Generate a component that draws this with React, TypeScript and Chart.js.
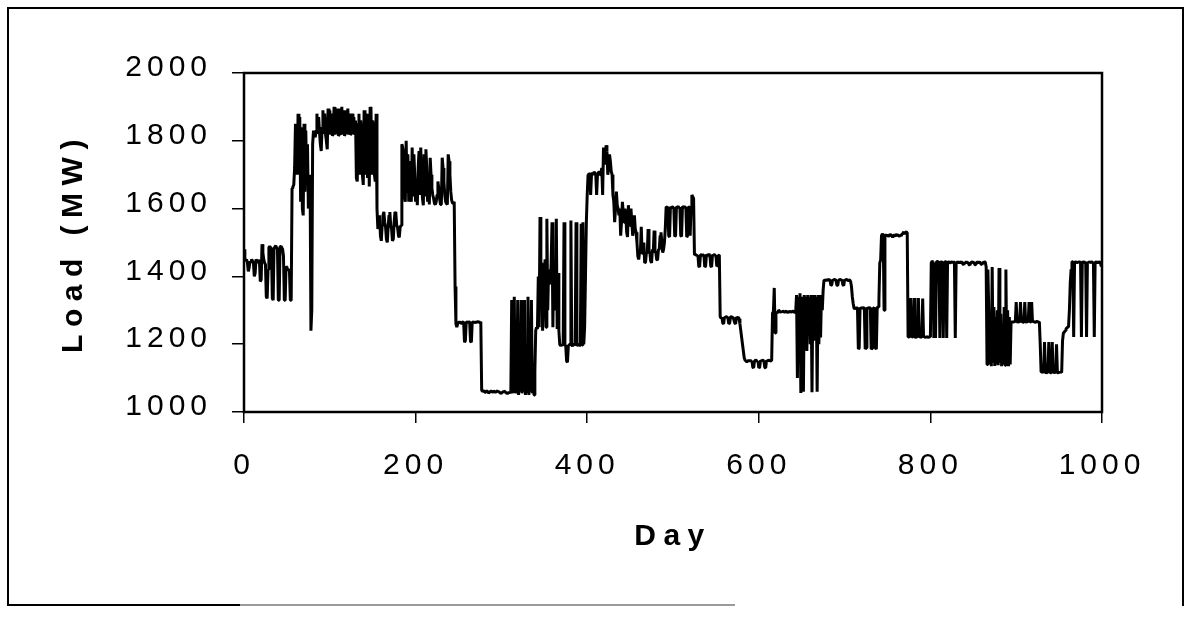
import React, { useEffect, useRef } from "react";
import { Chart, registerables } from "chart.js";

Chart.register(...registerables);

// Axis ticks and titles
const xTicks = [0, 200, 400, 600, 800, 1000];
const yTicks = [1000, 1200, 1400, 1600, 1800, 2000];
const xTitle = "Day";
const yTitle = "Load (MW)";

// Daily load (MW), one row per week. Days 0-202
const loadA = [
  1480, 1455, 1445, 1450, 1440, 1415, 1425,
  1445, 1440, 1450, 1445, 1440, 1400, 1410,
  1450, 1445, 1440, 1448, 1445, 1385, 1390,
  1495, 1470, 1450, 1440, 1435, 1340, 1335,
  1420, 1485, 1488, 1485, 1480, 1335, 1330,
  1485, 1488, 1490, 1485, 1480, 1330, 1330,
  1488, 1490, 1485, 1480, 1460, 1330, 1330,
  1430, 1425, 1420, 1420, 1415, 1330, 1330,
  1660, 1665, 1670, 1720, 1850, 1820, 1700,
  1880, 1700, 1870, 1620, 1840, 1600, 1580,
  1850, 1650, 1830, 1700, 1790, 1600, 1620,
  1700, 1240, 1300, 1790, 1830, 1820, 1810,
  1830, 1880, 1820, 1870, 1825, 1790, 1770,
  1840, 1890, 1820, 1880, 1820, 1800, 1775,
  1895, 1820, 1890, 1818, 1880, 1815, 1820,
  1900, 1818, 1890, 1820, 1895, 1815, 1818,
  1895, 1817, 1900, 1820, 1890, 1815, 1820,
  1890, 1820, 1895, 1818, 1880, 1818, 1820,
  1880, 1820, 1870, 1817, 1860, 1690, 1680,
  1850, 1880, 1700, 1860, 1820, 1700, 1670,
  1890, 1700, 1880, 1840, 1690, 1880, 1665,
  1900, 1890, 1700, 1860, 1840, 1700, 1680,
  1880, 1600, 1540, 1560, 1580, 1520, 1505,
  1550, 1580, 1590, 1560, 1545, 1510, 1500,
  1545, 1580, 1590, 1550, 1540, 1505, 1510,
  1560, 1590, 1585, 1550, 1545, 1520, 1515,
  1545, 1550, 1790, 1780, 1760, 1640, 1620,
  1800, 1650, 1760, 1620, 1740, 1640, 1620,
  1780, 1640, 1760, 1700, 1620, 1680, 1610,
];

// Days 203-405
const loadB = [
  1720, 1770, 1640, 1780, 1700, 1630, 1610,
  1760, 1640, 1775, 1720, 1620, 1680, 1612,
  1750, 1700, 1660, 1640, 1630, 1615, 1612,
  1620, 1640, 1680, 1660, 1630, 1612, 1612,
  1750, 1720, 1680, 1640, 1620, 1615, 1612,
  1760, 1740, 1700, 1650, 1625, 1616, 1616,
  1620, 1370, 1260, 1250, 1260, 1265, 1265,
  1265, 1262, 1266, 1265, 1264, 1206, 1210,
  1266, 1265, 1264, 1266, 1265, 1208, 1206,
  1266, 1265, 1266, 1264, 1265, 1265, 1266,
  1266, 1265, 1264, 1266, 1065, 1060, 1062,
  1062, 1058, 1060, 1062, 1060, 1056, 1058,
  1060, 1062, 1060, 1058, 1062, 1060, 1058,
  1060, 1062, 1060, 1060, 1058, 1055, 1056,
  1058, 1060, 1062, 1060, 1058, 1056, 1055,
  1056, 1058, 1055, 1060, 1330, 1100, 1055,
  1340, 1060, 1150, 1055, 1330, 1050, 1140,
  1060, 1330, 1055, 1150, 1060, 1330, 1050,
  1140, 1060, 1340, 1050, 1150, 1060, 1330,
  1055, 1140, 1050, 1120, 1240, 1250, 1245,
  1400, 1250, 1575, 1300, 1440, 1240, 1350,
  1420, 1450, 1250, 1570, 1300, 1420, 1380,
  1380, 1440, 1560, 1250, 1430, 1350, 1300,
  1570, 1245, 1410, 1240, 1200, 1195, 1198,
  1197, 1200, 1560, 1198, 1195, 1150, 1147,
  1195, 1198, 1200, 1565, 1197, 1195, 1198,
  1200, 1197, 1560, 1195, 1198, 1200, 1196,
  1197, 1555, 1198, 1560, 1200, 1250, 1400,
  1560, 1640, 1700, 1705, 1700, 1640, 1700,
];

// Days 406-608
const loadC = [
  1705, 1700, 1708, 1705, 1700, 1640, 1700,
  1705, 1710, 1700, 1706, 1720, 1640, 1780,
  1760, 1730, 1787, 1770, 1700, 1720, 1760,
  1740, 1710, 1700, 1640, 1620, 1560, 1600,
  1650, 1610, 1600, 1580, 1600, 1520, 1560,
  1620, 1590, 1560, 1600, 1580, 1530, 1516,
  1610, 1570, 1550, 1600, 1560, 1520, 1540,
  1580, 1540, 1530, 1500, 1460, 1450, 1470,
  1470, 1546, 1468, 1470, 1500, 1440, 1442,
  1470, 1468, 1540, 1470, 1472, 1445, 1440,
  1480, 1470, 1535, 1475, 1470, 1450, 1448,
  1478, 1480, 1520, 1530, 1500, 1470, 1480,
  1500, 1540, 1605, 1605, 1603, 1520, 1516,
  1605, 1602, 1605, 1604, 1600, 1518, 1520,
  1605, 1604, 1606, 1603, 1605, 1520, 1518,
  1606, 1605, 1604, 1605, 1603, 1516, 1520,
  1605, 1604, 1520, 1605, 1640, 1635, 1630,
  1463, 1465, 1463, 1462, 1464, 1430, 1428,
  1463, 1464, 1462, 1463, 1465, 1428, 1430,
  1464, 1462, 1463, 1465, 1463, 1430, 1428,
  1463, 1462, 1464, 1463, 1462, 1430, 1432,
  1462, 1463, 1280, 1278, 1280, 1262, 1260,
  1280, 1279, 1281, 1280, 1278, 1260, 1262,
  1280, 1281, 1279, 1280, 1280, 1262, 1260,
  1280, 1278, 1280, 1275, 1260, 1240, 1220,
  1200, 1180, 1160, 1153, 1150, 1148, 1150,
  1152, 1150, 1153, 1150, 1152, 1132, 1130,
  1150, 1153, 1152, 1150, 1151, 1130, 1132,
  1152, 1150, 1153, 1152, 1150, 1131, 1130,
];

// Days 609-811
const loadD = [
  1152, 1150, 1153, 1152, 1150, 1151, 1152,
  1292, 1295, 1366, 1233, 1290, 1295, 1292,
  1300, 1298, 1295, 1296, 1294, 1298, 1296,
  1295, 1296, 1298, 1294, 1296, 1295, 1296,
  1297, 1295, 1296, 1298, 1295, 1294, 1296,
  1345, 1100, 1340, 1200, 1350, 1056, 1340,
  1200, 1060, 1345, 1220, 1340, 1180, 1345,
  1250, 1340, 1200, 1345, 1058, 1340, 1210,
  1345, 1230, 1340, 1060, 1345, 1200, 1340,
  1220, 1345, 1300, 1360, 1389, 1390, 1388,
  1390, 1388, 1391, 1390, 1389, 1373, 1375,
  1390, 1389, 1391, 1390, 1388, 1374, 1373,
  1389, 1390, 1391, 1389, 1390, 1375, 1373,
  1390, 1389, 1391, 1390, 1388, 1390, 1389,
  1385, 1370, 1340, 1320, 1306, 1305, 1306,
  1308, 1306, 1186, 1188, 1308, 1306, 1307,
  1307, 1308, 1306, 1186, 1189, 1308, 1306,
  1307, 1308, 1306, 1185, 1188, 1307, 1306,
  1308, 1189, 1185, 1308, 1310, 1330, 1440,
  1448, 1520, 1525, 1522, 1300, 1520, 1522,
  1520, 1522, 1518, 1520, 1524, 1522, 1520,
  1515, 1520, 1522, 1518, 1525, 1520, 1522,
  1520, 1518, 1522, 1520, 1525, 1528, 1531,
  1525, 1530, 1531, 1528, 1221, 1222, 1220,
  1336, 1221, 1222, 1220, 1336, 1221, 1220,
  1222, 1221, 1336, 1220, 1222, 1221, 1220,
  1335, 1221, 1222, 1220, 1221, 1222, 1221,
  1220, 1222, 1221, 1440, 1445, 1443, 1218,
  1440, 1218, 1442, 1444, 1443, 1441, 1218,
];

// Days 812-1000
const loadE = [
  1442, 1443, 1440, 1218, 1442, 1444, 1443,
  1218, 1441, 1443, 1442, 1440, 1442, 1443,
  1441, 1443, 1440, 1218, 1442, 1441, 1443,
  1440, 1442, 1441, 1443, 1440, 1436, 1434,
  1442, 1440, 1443, 1441, 1440, 1435, 1433,
  1440, 1442, 1443, 1441, 1440, 1434, 1436,
  1441, 1443, 1440, 1442, 1441, 1436, 1435,
  1440, 1441, 1443, 1442, 1428, 1140, 1420,
  1300, 1140, 1250, 1135, 1428, 1150, 1310,
  1136, 1280, 1140, 1300, 1138, 1425, 1145,
  1290, 1135, 1260, 1140, 1310, 1138, 1420,
  1140, 1300, 1135, 1280, 1140, 1266, 1265,
  1266, 1265, 1267, 1266, 1324, 1266, 1265,
  1266, 1265, 1324, 1266, 1267, 1265, 1266,
  1324, 1266, 1265, 1267, 1266, 1324, 1265,
  1266, 1324, 1265, 1267, 1266, 1265, 1266,
  1267, 1266, 1265, 1266, 1200, 1118, 1120,
  1118, 1116, 1206, 1118, 1115, 1117, 1118,
  1206, 1118, 1116, 1115, 1206, 1118, 1117,
  1116, 1118, 1200, 1117, 1115, 1118, 1116,
  1118, 1117, 1210, 1233, 1235, 1240, 1245,
  1248, 1250, 1252, 1300, 1380, 1420, 1443,
  1443, 1221, 1440, 1443, 1442, 1441, 1443,
  1442, 1443, 1441, 1221, 1440, 1443, 1442,
  1441, 1443, 1221, 1442, 1440, 1443, 1441,
  1442, 1443, 1440, 1441, 1221, 1443, 1442,
  1441, 1443, 1440, 1442, 1443, 1430, 1432,
];

const FONT = "'Liberation Sans', Arial, Helvetica, sans-serif";

export default function App() {
  const ref = useRef<HTMLCanvasElement>(null);

  useEffect(() => {
    document.body.style.margin = "0";
    const canvas = ref.current;
    if (!canvas) return;
    const load = [...loadA, ...loadB, ...loadC, ...loadD, ...loadE];
    const points = load.map((y, day) => ({ x: day, y }));

    const framePlugin = {
      id: "framePlugin",
      beforeDraw(chart: any) {
        (chart.ctx as any).letterSpacing = "7.5px";
      },
      afterDatasetsDraw(chart: any) {
        const { ctx, chartArea } = chart;
        ctx.save();
        ctx.strokeStyle = "#000";
        ctx.lineWidth = 2.5;
        ctx.strokeRect(
          chartArea.left,
          chartArea.top,
          chartArea.right - chartArea.left,
          chartArea.bottom - chartArea.top
        );
        ctx.restore();
        (ctx as any).letterSpacing = "5px";
      },
      afterDraw(chart: any) {
        const ctx = chart.ctx;
        (ctx as any).letterSpacing = "0px";
        ctx.save();
        ctx.strokeStyle = "#000";
        ctx.lineWidth = 2;
        ctx.beginPath();
        ctx.moveTo(7, 8);
        ctx.lineTo(1184, 8);
        ctx.moveTo(8, 7);
        ctx.lineTo(8, 606);
        ctx.moveTo(1183, 7);
        ctx.lineTo(1183, 606);
        ctx.moveTo(7, 605);
        ctx.lineTo(240, 605);
        ctx.stroke();
        ctx.strokeStyle = "#9a9a9a";
        ctx.beginPath();
        ctx.moveTo(240, 605);
        ctx.lineTo(735, 605);
        ctx.stroke();
        ctx.restore();
      },
    };

    const chart = new Chart(canvas, {
      type: "line",
      data: {
        datasets: [
          {
            data: points,
            borderColor: "#000",
            borderWidth: 3,
            borderJoinStyle: "bevel",
            pointRadius: 0,
            tension: 0,
            fill: false,
          },
        ],
      },
      options: {
        animation: false,
        responsive: false,
        devicePixelRatio: 1,
        layout: { padding: { top: 73, right: 87, bottom: 0, left: 0 } },
        plugins: {
          legend: { display: false },
          tooltip: { enabled: false },
        },
        scales: {
          x: {
            type: "linear",
            min: 0,
            max: 1000,
            afterFit: (s: any) => {
              s.height = 207;
            },
            afterBuildTicks: (s: any) => {
              s.ticks = xTicks.map((v) => ({ value: v }));
            },
            ticks: {
              z: 1,
              color: "#000",
              padding: 25,
              maxRotation: 0,
              autoSkip: false,
              font: { family: FONT, size: 30 },
              callback: (v: any) => String(v),
            },
            grid: {
              display: true,
              drawOnChartArea: false,
              drawTicks: true,
              tickLength: 11,
              color: "#000",
              lineWidth: 1.5,
            },
            border: { display: false },
            title: {
              display: true,
              text: xTitle,
              color: "#000",
              font: { family: FONT, size: 30, weight: "bold" },
              padding: { top: 0, bottom: 64 },
            },
          },
          y: {
            type: "linear",
            min: 1000,
            max: 2000,
            afterFit: (s: any) => {
              s.width = 244;
            },
            afterBuildTicks: (s: any) => {
              s.ticks = yTicks.map((v) => ({ value: v }));
            },
            ticks: {
              z: 1,
              color: "#000",
              padding: 20,
              labelOffset: -5,
              font: { family: FONT, size: 30 },
              callback: (v: any) => String(v),
            },
            grid: {
              display: true,
              drawOnChartArea: false,
              drawTicks: true,
              tickLength: 12,
              color: "#000",
              lineWidth: 1.5,
            },
            border: { display: false },
            title: {
              display: true,
              text: yTitle,
              color: "#000",
              font: { family: FONT, size: 30, weight: "bold" },
              padding: { top: 56, bottom: 0 },
            },
          },
        },
      },
      plugins: [framePlugin],
    } as any);

    return () => chart.destroy();
  }, []);

  return (
    <canvas
      ref={ref}
      width={1189}
      height={619}
      style={{ display: "block" }}
    />
  );
}
